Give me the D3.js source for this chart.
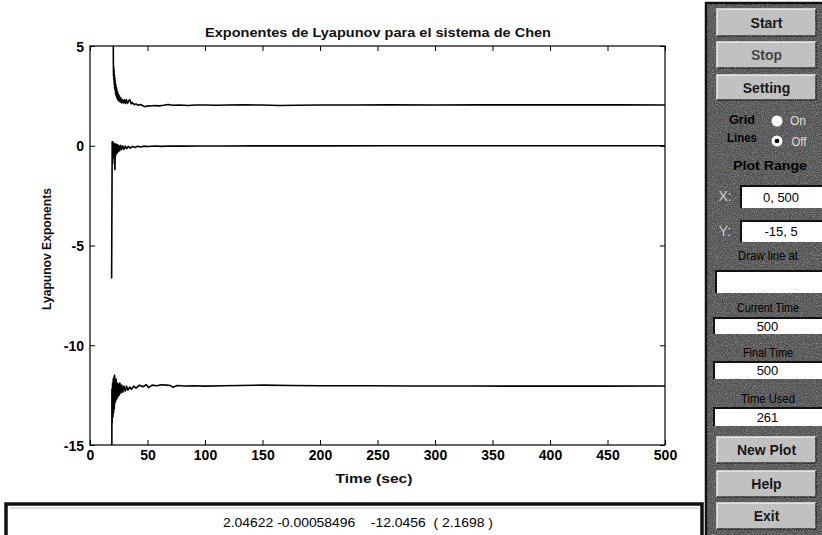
<!DOCTYPE html>
<html><head><meta charset="utf-8">
<script src="https://cdn.jsdelivr.net/npm/d3@7"></script>
<style>
html,body{margin:0;padding:0;background:#fff;}
svg{display:block;font-family:"Liberation Sans",Arial,Helvetica,sans-serif;}
</style></head><body>
<svg id="chart" width="822" height="535"></svg>
<script>
// ---- data -------------------------------------------------------------
const chartTitle = "Exponentes de Lyapunov para el sistema de Chen";
const xLabel = "Time (sec)";
const yLabel = "Lyapunov Exponents";
const xDomain = [0, 500];
const yDomain = [-15, 5];
const xTickValues = [0, 50, 100, 150, 200, 250, 300, 350, 400, 450, 500];
const yTickValues = [5, 0, -5, -10, -15];

// running estimates of the three exponents: [time, value]
const lambda1 = [[20.2,7],[20.3,4.2],[20.45,3.5],[20.6,4.0],[20.75,3.3],[20.9,3.8],[21.05,3.1],[21.2,3.6],
  [21.4,2.9],[21.6,3.4],[21.8,2.8],[22.0,3.2],[22.25,2.6],[22.5,3.05],[22.8,2.5],[23.1,2.9],[23.4,2.4],
  [23.8,2.75],[24.2,2.3],[24.6,2.6],[25.1,2.25],[25.6,2.5],[26.2,2.2],[26.8,2.4],[27.5,2.15],[28.2,2.3],
  [29,2.15],[29.8,2.3],[30.6,2.12],[31.6,2.32],[32.6,2.12],[33.6,2.25],[34.7,2.3],[35.8,2.1],[37,2.16],
  [38.5,2.06],[40,2.1],[42,2.03],[44,2.07],[46,2.0],[48,1.96],[50,2.0],[53,1.99],[56,2.02],[60,2.0],
  [64,2.03],[68,2.07],[72,2.03],[78,2.04],[85,2.02],[92,2.04],[100,2.04],[110,2.03],[120,2.04],[135,2.05],
  [150,2.04],[165,2.02],[180,2.03],[200,2.04],[230,2.04],[260,2.05],[300,2.04],[340,2.05],[380,2.05],
  [420,2.05],[460,2.05],[500,2.04622]];
const lambda2 = [[18.8,-6.65],[19.3,0.2],[19.6,-0.9],[19.9,0.2],[20.2,-0.6],[20.5,0.15],[20.8,-0.5],
  [21.1,0.1],[21.4,-0.7],[21.7,-1.2],[22.0,0.05],[22.3,-0.5],[22.6,0.1],[22.9,-0.4],[23.3,0.05],
  [23.7,-0.35],[24.1,0.05],[24.5,-0.3],[25,0.0],[25.7,-0.25],[26.5,0.02],[27.4,-0.2],[28.4,0.0],
  [29.5,-0.18],[30.7,-0.02],[32,-0.14],[33.4,-0.03],[35,-0.12],[37,-0.03],[39,-0.09],[41.5,-0.02],
  [44,-0.06],[47,-0.02],[51,-0.04],[56,-0.01],[62,-0.03],[70,-0.01],[80,-0.02],[95,-0.01],[115,-0.01],
  [150,-0.005],[200,-0.004],[260,-0.002],[330,-0.001],[420,-0.001],[500,-0.00058496]];
const lambda3 = [[19,-16],[19.05,-12.2],[19.3,-13.9],[19.6,-11.9],[19.9,-13.6],[20.2,-11.7],[20.5,-13.4],
  [20.8,-11.6],[21.1,-13.2],[21.4,-11.5],[21.7,-12.9],[22.0,-11.8],[22.3,-12.8],[22.7,-11.7],[23.1,-12.7],
  [23.6,-11.9],[24.1,-12.6],[24.7,-11.95],[25.3,-12.5],[26,-11.9],[26.8,-12.4],[27.6,-12.0],[28.5,-12.35],
  [29.5,-12.05],[30.6,-12.3],[31.8,-12.05],[33,-12.25],[34.5,-12.1],[36,-12.2],[38,-12.05],[40,-12.15],
  [43,-12.0],[46,-12.08],[49,-11.98],[51,-12.12],[54,-12.0],[58,-12.03],[62,-11.98],[66,-12.0],[70,-12.02],
  [72,-12.1],[76,-12.02],[82,-12.04],[90,-12.03],[100,-12.05],[115,-12.03],[130,-12.02],[150,-12.0],
  [175,-12.02],[200,-12.03],[240,-12.03],[280,-12.04],[330,-12.04],[380,-12.05],[440,-12.05],[500,-12.0456]];

// final exponents and Lyapunov dimension shown in the readout
const finalExponents = [2.04622, -0.00058496, -12.0456];
const lyapunovDimension = "2.1698";

// control panel contents
const topButtons = ["Start", "Stop", "Setting"];
const bottomButtons = ["New Plot", "Help", "Exit"];
const plotRangeX = "0, 500";
const plotRangeY = "-15, 5";
const currentTime = "500";
const finalTime = "500";
const timeUsed = "261";

// ---- chart ------------------------------------------------------------
const svg = d3.select("#chart");
const m = {left: 90, right: 665, top: 46, bottom: 445};
const x = d3.scaleLinear().domain(xDomain).range([m.left, m.right]);
const y = d3.scaleLinear().domain(yDomain).range([m.bottom, m.top]);

svg.append("rect").attr("width", 822).attr("height", 535).attr("fill", "#fff");

const defs = svg.append("defs");
defs.append("clipPath").attr("id", "plotClip")
  .append("rect").attr("x", m.left).attr("y", m.top)
  .attr("width", m.right - m.left).attr("height", m.bottom - m.top);

const grain = defs.append("filter").attr("id", "grain")
  .attr("x", 0).attr("y", 0).attr("width", "100%").attr("height", "100%");
grain.append("feTurbulence").attr("type", "fractalNoise").attr("baseFrequency", 0.9)
  .attr("numOctaves", 2).attr("seed", 7).attr("result", "noise");
grain.append("feColorMatrix").attr("in", "noise").attr("type", "matrix")
  .attr("values", "0 0 0 0 0.75  0 0 0 0 0.75  0 0 0 0 0.75  2.2 0 0 0 -0.9");

const plain = d => String(d);
const axisFont = g => g.selectAll("text")
  .attr("font-size", 14).attr("font-weight", "bold").attr("fill", "#000");

const xAxis = svg.append("g").attr("transform", `translate(0,${m.bottom})`)
  .call(d3.axisBottom(x).tickValues(xTickValues).tickFormat(plain)
    .tickSizeInner(-5).tickSizeOuter(0).tickPadding(5));
const yAxis = svg.append("g").attr("transform", `translate(${m.left},0)`)
  .call(d3.axisLeft(y).tickValues(yTickValues).tickFormat(plain)
    .tickSizeInner(-5).tickSizeOuter(0).tickPadding(6));
svg.append("g").attr("transform", `translate(0,${m.top})`)
  .call(d3.axisTop(x).tickValues(xTickValues).tickSizeInner(-5).tickSizeOuter(0).tickFormat(""));
svg.append("g").attr("transform", `translate(${m.right},0)`)
  .call(d3.axisRight(y).tickValues(yTickValues).tickSizeInner(-5).tickSizeOuter(0).tickFormat(""));
svg.selectAll(".domain").remove();
svg.selectAll(".tick line").attr("stroke", "#000");
xAxis.call(axisFont);
yAxis.call(axisFont);
yAxis.selectAll("text").attr("dy", "0.36em");

svg.append("rect").attr("x", m.left).attr("y", m.top)
  .attr("width", m.right - m.left).attr("height", m.bottom - m.top)
  .attr("fill", "none").attr("stroke", "#000").attr("stroke-width", 1.2);

const line = d3.line().x(d => x(d[0])).y(d => y(d[1]));
svg.append("g").attr("clip-path", "url(#plotClip)")
  .selectAll("path").data([lambda1, lambda2, lambda3]).join("path")
  .attr("d", line).attr("fill", "none").attr("stroke", "#000")
  .attr("stroke-width", 1.6).attr("stroke-linejoin", "round");

svg.append("text").attr("x", 378).attr("y", 37).attr("text-anchor", "middle")
  .attr("font-size", 13).attr("font-weight", "bold").attr("fill", "#111").attr("textLength", 346)
  .attr("lengthAdjust", "spacingAndGlyphs").text(chartTitle);
svg.append("text").attr("x", 374).attr("y", 483).attr("text-anchor", "middle")
  .attr("font-size", 13).attr("font-weight", "bold").attr("fill", "#111").attr("textLength", 77)
  .attr("lengthAdjust", "spacingAndGlyphs").text(xLabel);
svg.append("text").attr("transform", "translate(51,249) rotate(-90)").attr("text-anchor", "middle")
  .attr("font-size", 13).attr("font-weight", "bold").attr("fill", "#111").attr("textLength", 122)
  .attr("lengthAdjust", "spacingAndGlyphs").text(yLabel);

// ---- readout strip ----------------------------------------------------
svg.append("rect").attr("x", 6).attr("y", 504).attr("width", 696).attr("height", 40)
  .attr("fill", "#fff").attr("stroke", "#111").attr("stroke-width", 3.5);
svg.append("line").attr("x1", 9).attr("x2", 699).attr("y1", 508).attr("y2", 508)
  .attr("stroke", "#bbb").attr("stroke-width", 1);
const readout = finalExponents.map(String);
svg.append("text").attr("x", 358).attr("y", 527).attr("text-anchor", "middle")
  .attr("font-size", 13).attr("textLength", 270).attr("lengthAdjust", "spacingAndGlyphs")
  .style("white-space", "pre")
  .text(`${readout[0]} ${readout[1]}    ${readout[2]}  ( ${lyapunovDimension} )`);

// ---- control panel ----------------------------------------------------
const panel = svg.append("g");
panel.append("rect").attr("x", 706).attr("y", 3).attr("width", 118).attr("height", 535)
  .attr("fill", "#505050").attr("stroke", "#111").attr("stroke-width", 2.5);

function button(label, y0, h, color) {
  panel.append("rect").attr("x", 717).attr("y", y0).attr("width", 99).attr("height", h)
    .attr("fill", "#bdbdbd");
  panel.append("path").attr("d", `M717,${y0 + h}V${y0}H816`).attr("fill", "none")
    .attr("stroke", "#eee").attr("stroke-width", 1.5);
  panel.append("path").attr("d", `M717,${y0 + h}H816V${y0}`).attr("fill", "none")
    .attr("stroke", "#222").attr("stroke-width", 1.5);
  panel.append("text").attr("class", "lbl").attr("x", 766.5).attr("y", y0 + h / 2 + 5)
    .attr("text-anchor", "middle").attr("font-size", 14).attr("font-weight", "bold")
    .attr("fill", color).text(label);
}
const topY = [9, 42, 75], topH = [27, 26, 25];
topButtons.forEach((b, i) => button(b, topY[i], topH[i], i === 1 ? "#333" : "#000"));
const botY = [437, 471, 503], botH = [26, 26, 26];
bottomButtons.forEach((b, i) => button(b, botY[i], botH[i], "#000"));

// grain over panel surfaces
panel.append("rect").attr("x", 707).attr("y", 4).attr("width", 115).attr("height", 531)
  .attr("filter", "url(#grain)").attr("opacity", 0.45);

function field(x0, y0, w, h, value, fs) {
  panel.append("rect").attr("x", x0).attr("y", y0).attr("width", w).attr("height", h).attr("fill", "#fff");
  panel.append("path").attr("d", `M${x0 + 1},${y0 + h}V${y0 + 1}H${x0 + w}`).attr("fill", "none")
    .attr("stroke", "#111").attr("stroke-width", 2);
  if (value) panel.append("text").attr("x", x0 + w / 2).attr("y", y0 + h / 2 + 5)
    .attr("text-anchor", "middle").attr("font-size", fs).attr("fill", "#000").text(value);
}
function caption(t, cx, by, fs, weight, color, len) {
  const s = panel.append("text").attr("x", cx).attr("y", by).attr("text-anchor", "middle")
    .attr("font-size", fs).attr("font-weight", weight).attr("fill", color).text(t);
  if (len) s.attr("textLength", len).attr("lengthAdjust", "spacingAndGlyphs");
}

caption("Grid", 742, 124, 13, "bold", "#000", 26);
caption("Lines", 742, 142, 13, "bold", "#000", 30);
panel.append("circle").attr("cx", 777).attr("cy", 121).attr("r", 5.5).attr("fill", "#fff");
panel.append("circle").attr("cx", 777).attr("cy", 141).attr("r", 5.5).attr("fill", "#fff");
panel.append("circle").attr("cx", 777).attr("cy", 141).attr("r", 2.3).attr("fill", "#000");
caption("On", 798, 125, 12, "normal", "#ddd", 16);
caption("Off", 799, 146, 12, "normal", "#ddd", 15);
caption("Plot Range", 770, 170, 13, "bold", "#000", 74);

caption("X:", 725, 201, 14, "normal", "#ccc");
field(740, 185, 82, 23, plotRangeX, 13);
caption("Y:", 725, 236, 14, "normal", "#ccc");
field(740, 220, 82, 22, plotRangeY, 13);

caption("Draw line at", 768, 260, 12, "normal", "#000", 60);
field(715, 270, 107, 23, "", 13);
caption("Current Time", 768, 312, 13, "normal", "#000", 62);
field(713, 317, 109, 17, currentTime, 13);
caption("Final Time", 768, 357, 13, "normal", "#000", 50);
field(713, 361, 109, 18, finalTime, 13);
caption("Time Used", 768, 403, 13, "normal", "#000", 54);
field(713, 407, 109, 19, timeUsed, 13);
</script></body></html>
